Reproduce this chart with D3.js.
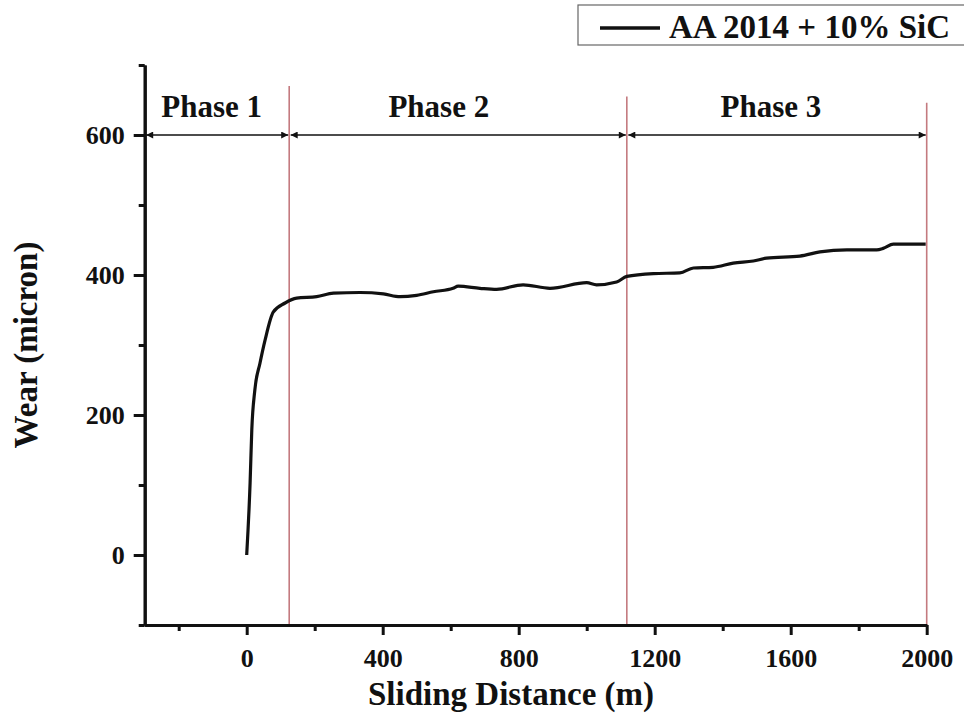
<!DOCTYPE html>
<html>
<head>
<meta charset="utf-8">
<script src="https://cdn.jsdelivr.net/npm/d3@7"></script>
<style>
  body { margin: 0; background: #fff; }
  text { font-family: "Liberation Serif", "Times New Roman", serif; font-weight: bold; fill: #111; }
</style>
</head>
<body>
<div id="chart"></div>
<script>
// Wear curve
const distance = [0, 10, 15, 24, 39, 54, 78, 113, 147, 206, 255, 333, 402, 451, 500, 549, 607, 622,
  686, 735, 813, 892, 1000, 1029, 1088, 1118, 1196, 1274, 1314, 1372, 1431, 1490, 1529, 1627,
  1686, 1765, 1853, 1872, 1902, 1997];
const wear = [0, 103, 179, 236, 274, 307, 347, 360, 367, 369, 374, 375, 373, 369, 371, 376, 381, 384,
  381, 379.5, 386, 381, 389, 386, 390, 398, 402, 403, 410, 411, 417, 420, 424, 427,
  433, 436, 436, 438, 444, 444];

const xMajor = [0, 400, 800, 1200, 1600, 2000];
const xMinor = [-200, 200, 600, 1000, 1400, 1800];
const yMajor = [0, 200, 400, 600];
const yMinor = [-100, 100, 300, 500, 700];

const phaseNames = ["Phase 1", "Phase 2", "Phase 3"];
const phaseLabelX = [-103, 565, 1542];
const phaseBounds = [-300, 125, 1118, 2000];
const boundaryTop = [670, 655, 646];
const arrowLevel = 600;
const seriesName = "AA 2014 + 10% SiC";

const width = 964, height = 720;
const svg = d3.select("#chart").append("svg")
  .attr("width", width)
  .attr("height", height)
  .style("background", "#fff");

const x = d3.scaleLinear().domain([-300, 2000]).range([144.7, 926.7]);
const y = d3.scaleLinear().domain([-100, 700]).range([625, 65]);

// arrow markers
const defs = svg.append("defs");
defs.append("marker")
  .attr("id", "arrow")
  .attr("viewBox", "0 0 10 10")
  .attr("refX", 10).attr("refY", 5)
  .attr("markerWidth", 12).attr("markerHeight", 7)
  .attr("markerUnits", "userSpaceOnUse")
  .attr("orient", "auto-start-reverse")
  .append("path")
  .attr("d", "M0,0 L10,5 L0,10 Z")
  .attr("fill", "#111");

// phase boundary lines (red)
svg.selectAll(".bound")
  .data(phaseBounds.slice(1))
  .join("line")
  .attr("class", "bound")
  .attr("x1", d => x(d)).attr("x2", d => x(d))
  .attr("y1", (d, i) => y(boundaryTop[i]))
  .attr("y2", y(-100))
  .attr("stroke", "#c47a7f")
  .attr("stroke-width", 1.6);

// double-headed arrows for each phase
svg.selectAll(".phase-arrow")
  .data(phaseNames)
  .join("line")
  .attr("class", "phase-arrow")
  .attr("x1", (d, i) => x(phaseBounds[i]) + 1.5)
  .attr("x2", (d, i) => x(phaseBounds[i + 1]) - 1)
  .attr("y1", y(arrowLevel)).attr("y2", y(arrowLevel))
  .attr("stroke", "#111")
  .attr("stroke-width", 1.5)
  .attr("marker-start", "url(#arrow)")
  .attr("marker-end", "url(#arrow)");

svg.selectAll(".phase-label")
  .data(phaseNames)
  .join("text")
  .attr("class", "phase-label")
  .attr("x", (d, i) => x(phaseLabelX[i]))
  .attr("y", 117)
  .attr("text-anchor", "middle")
  .style("font-size", "31px")
  .text(d => d);

// data line
const pts = distance.map((d, i) => [d, wear[i]]);
svg.append("path")
  .datum(pts)
  .attr("d", d3.line().x(d => x(d[0])).y(d => y(d[1])).curve(d3.curveMonotoneX))
  .attr("fill", "none")
  .attr("stroke", "#111")
  .attr("stroke-width", 3.2)
  .attr("stroke-linejoin", "round");

// axes
svg.append("g")
  .attr("transform", `translate(0,${y(-100)})`)
  .call(d3.axisBottom(x).tickValues(xMajor).tickFormat(d3.format("d"))
    .tickSize(10).tickPadding(14).tickSizeOuter(0));
svg.append("g")
  .attr("transform", `translate(0,${y(-100)})`)
  .call(d3.axisBottom(x).tickValues(xMinor).tickSize(6).tickFormat("").tickSizeOuter(0));

svg.append("g")
  .attr("transform", `translate(${x(-300)},0)`)
  .call(d3.axisLeft(y).tickValues(yMajor).tickFormat(d3.format("d"))
    .tickSize(11).tickPadding(9).tickSizeOuter(0));
svg.append("g")
  .attr("transform", `translate(${x(-300)},0)`)
  .call(d3.axisLeft(y).tickValues(yMinor).tickSize(6).tickFormat("").tickSizeOuter(0));

svg.selectAll(".domain").attr("stroke", "#111").attr("stroke-width", 3);
svg.selectAll(".tick line").attr("stroke", "#111").attr("stroke-width", 3);
svg.selectAll(".tick text")
  .style("font-size", "26px")
  .style("font-family", "'Liberation Serif', serif")
  .style("font-weight", "bold")
  .attr("fill", "#111");

// axis titles
svg.append("text")
  .attr("x", 511)
  .attr("y", 705)
  .attr("text-anchor", "middle")
  .style("font-size", "33px")
  .text("Sliding Distance (m)");

svg.append("text")
  .attr("transform", "translate(37,345) rotate(-90)")
  .attr("text-anchor", "middle")
  .style("font-size", "33px")
  .text("Wear (micron)");

// legend
const legend = svg.append("g");
legend.append("rect")
  .attr("x", 578).attr("y", 5)
  .attr("width", 400).attr("height", 40)
  .attr("fill", "#fff")
  .attr("stroke", "#666")
  .attr("stroke-width", 1.2);
legend.append("line")
  .attr("x1", 600).attr("x2", 660)
  .attr("y1", 28).attr("y2", 28)
  .attr("stroke", "#111")
  .attr("stroke-width", 3.5);
legend.append("text")
  .attr("x", 669).attr("y", 38)
  .style("font-size", "33px")
  .text(seriesName);
</script>
</body>
</html>
